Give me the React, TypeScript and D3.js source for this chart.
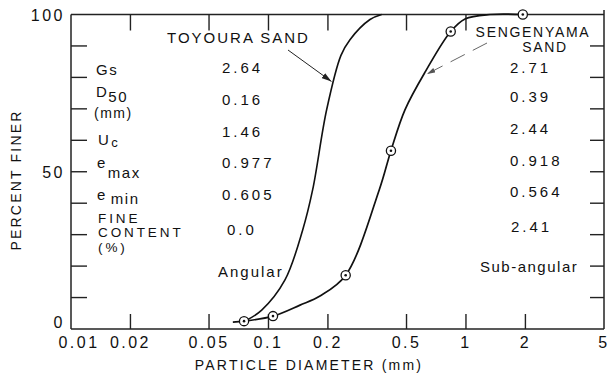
import React from "react";
import * as d3 from "d3";

const W = 609;
const H = 379;

// ---- data ----
const xTickValues = [0.01, 0.02, 0.05, 0.1, 0.2, 0.5, 1, 2, 5];
const xTickLabels = ["0.01", "0.02", "0.05", "0.1", "0.2", "0.5", "1", "2", "5"];
const xMinorBottom = [0.02, 0.05, 0.1, 0.2, 0.5, 1, 2];
const xMinorTop = [0.02, 0.05, 0.1, 0.2, 0.5, 1];
const yTickValues = [0, 50, 100];
const yMinor = [10, 20, 30, 40, 50, 60, 70, 80, 90];

// Toyoura sand gradation (diameter mm, percent finer)
const toyouraD = [0.0765, 0.0924, 0.1212, 0.149, 0.1674, 0.197, 0.2328, 0.2586, 0.3266, 0.374];
const toyouraP = [2.6, 6, 15.6, 31.5, 44.3, 69.7, 87, 92, 98.4, 100];

// Sengenyama sand gradation
const sengenD = [0.066, 0.0752, 0.1054, 0.1444, 0.1823, 0.246, 0.364, 0.417, 0.491, 0.625, 0.837, 0.989, 1.323, 1.94];
const sengenP = [2.2, 2.5, 4.1, 7.6, 10.5, 17.1, 44.3, 56.7, 69.7, 82.0, 94.6, 98.6, 100, 100];
// measured points (markers)
const markerD = [0.0752, 0.1054, 0.246, 0.417, 0.837, 1.94];
const markerP = [2.5, 4.1, 17.1, 56.7, 94.6, 100];

const toyouraValues = ["2.64", "0.16", "1.46", "0.977", "0.605", "0.0", "Angular"];
const sengenValues = ["2.71", "0.39", "2.44", "0.918", "0.564", "2.41", "Sub-angular"];

const FONT = "'Liberation Sans', Arial, Helvetica, sans-serif";

export default function App() {
  const x = d3.scaleLog().domain([0.01, 5]).range([71, 604]);
  const y = d3.scaleLinear().domain([0, 100]).range([329, 14.5]);

  const line = d3
    .line<[number, number]>()
    .x((d) => x(d[0]))
    .y((d) => Math.max(y(100), y(d[1])))
    .curve(d3.curveCatmullRom.alpha(0.5));

  const toy: [number, number][] = toyouraD.map((d, i) => [d, toyouraP[i]]);
  const sen: [number, number][] = sengenD.map((d, i) => [d, sengenP[i]]);

  const valueBaselinesL = [73, 105, 137, 168, 200, 235, 277];
  const valueXL = [222, 222, 222, 222, 222, 227, 218];
  const valueBaselinesR = [73, 102, 134, 166, 197, 232, 272];
  const valueXR = [510, 510, 510, 510, 510, 511, 480];

  const txt = { fontFamily: FONT, fill: "#111" } as const;

  return (
    <svg
      width={W}
      height={H}
      style={{ position: "absolute", left: 0, top: 0, background: "#fff" }}
    >
      <defs>
        <marker id="arr" viewBox="0 0 10 6" refX="10" refY="3" markerWidth="10" markerHeight="6" orient="auto" markerUnits="userSpaceOnUse">
          <path d="M0,0 L10,3 L0,6 Z" fill="#222" />
        </marker>
        <marker id="arr2" viewBox="0 0 10 6" refX="10" refY="3" markerWidth="9" markerHeight="5" orient="auto" markerUnits="userSpaceOnUse">
          <path d="M0,0 L10,3 L0,6 Z" fill="#555" />
        </marker>
      </defs>
      <rect x={0} y={0} width={W} height={H} fill="#fff" />

      {/* frame */}
      <g stroke="#222" strokeWidth={1.5} fill="none">
        <line x1={x(0.01)} x2={x(0.01)} y1={y(100)} y2={y(0)} />
        <line x1={x(0.01)} x2={x(5)} y1={y(0)} y2={y(0)} />
        <line x1={x(0.01)} x2={x(5)} y1={y(100)} y2={y(100)} />
        <line x1={x(5)} x2={x(5)} y1={10} y2={y(0)} />
      </g>

      {/* ticks */}
      <g stroke="#222" strokeWidth={1.4}>
        {xMinorBottom.map((v) => (
          <line key={"b" + v} x1={x(v)} x2={x(v)} y1={y(0)} y2={y(0) - 15} />
        ))}
        {xMinorTop.map((v) => (
          <line key={"t" + v} x1={x(v)} x2={x(v)} y1={y(100)} y2={y(100) + 16} />
        ))}
        {yMinor.map((v) => (
          <line key={"l" + v} x1={x(0.01)} x2={x(0.01) + 16} y1={y(v)} y2={y(v)} />
        ))}
        {yMinor.map((v) => (
          <line key={"r" + v} x1={x(5)} x2={x(5) - 14} y1={y(v)} y2={y(v)} />
        ))}
      </g>

      {/* tick labels */}
      <g style={{ ...txt, fontSize: 16, letterSpacing: 2.5 }}>
        {xTickValues.map((v, i) => (
          <text key={v} x={x(v) + (i === 0 ? 8 : 0)} y={348} textAnchor="middle">
            {xTickLabels[i]}
          </text>
        ))}
        {yTickValues.map((v) => (
          <text key={v} x={65} y={y(v) + 6 - (v === 0 ? 7 : 0)} textAnchor="end">
            {String(v)}
          </text>
        ))}
      </g>

      {/* axis titles */}
      <text
        style={{ ...txt, fontSize: 14, letterSpacing: 2.2 }}
        transform={`translate(21,180) rotate(-90)`}
        textAnchor="middle"
      >
        PERCENT FINER
      </text>
      <text style={{ ...txt, fontSize: 14, letterSpacing: 2.2 }} x={309} y={370} textAnchor="middle">
        PARTICLE DIAMETER (mm)
      </text>

      {/* curves */}
      <path d={line(toy) || ""} fill="none" stroke="#111" strokeWidth={1.6} />
      <path d={line(sen) || ""} fill="none" stroke="#111" strokeWidth={1.7} />
      {markerD.map((d, i) => (
        <g key={i}>
          <circle cx={x(d)} cy={y(markerP[i])} r={4.6} fill="#fff" stroke="#111" strokeWidth={1.3} />
          <circle cx={x(d)} cy={y(markerP[i])} r={1.3} fill="#111" />
        </g>
      ))}

      {/* curve labels and arrows */}
      <text style={{ ...txt, fontSize: 15, letterSpacing: 2 }} x={167} y={43}>
        TOYOURA SAND
      </text>
      <line x1={288} y1={50} x2={331.5} y2={81.5} stroke="#222" strokeWidth={1} markerEnd="url(#arr)" />
      <text style={{ ...txt, fontSize: 14, letterSpacing: 1.7 }} x={533} y={37} textAnchor="middle">
        SENGENYAMA
      </text>
      <text style={{ ...txt, fontSize: 14, letterSpacing: 1.7 }} x={545} y={52} textAnchor="middle">
        SAND
      </text>
      <line
        x1={487}
        y1={43}
        x2={427}
        y2={74}
        stroke="#555"
        strokeWidth={0.9}
        strokeDasharray="16 9"
        markerEnd="url(#arr2)"
      />

      {/* property labels */}
      <g style={{ ...txt, fontSize: 15, letterSpacing: 1.5 }}>
        <text x={96} y={75}>Gs</text>
        <text x={96} y={97}>
          D<tspan dy={5}>50</tspan>
        </text>
        <text x={94} y={118} fontSize={14}>(mm)</text>
        <text x={98} y={145}>
          U<tspan dx={1} dy={2} fontSize={13}>c</tspan>
        </text>
        <text x={97} y={168}>
          e<tspan dx={1} dy={10}>max</tspan>
        </text>
        <text x={97} y={200}>
          e<tspan dx={4} dy={4}>min</tspan>
        </text>
        <text x={98} y={223} fontSize={13.5} style={{ letterSpacing: 2.9 }}>FINE</text>
        <text x={98} y={237} fontSize={13.5} style={{ letterSpacing: 2.9 }}>CONTENT</text>
        <text x={98} y={252} fontSize={13.5} style={{ letterSpacing: 2.9 }}>(%)</text>
      </g>

      {/* property values */}
      <g style={{ ...txt, fontSize: 15, letterSpacing: 3 }}>
        {toyouraValues.map((v, i) => (
          <text key={"tv" + i} x={valueXL[i]} y={valueBaselinesL[i]} style={i === 6 ? { letterSpacing: 2 } : undefined}>
            {v}
          </text>
        ))}
        {sengenValues.map((v, i) => (
          <text key={"sv" + i} x={valueXR[i]} y={valueBaselinesR[i]} style={i === 6 ? { letterSpacing: 1.5 } : undefined}>
            {v}
          </text>
        ))}
      </g>
    </svg>
  );
}
